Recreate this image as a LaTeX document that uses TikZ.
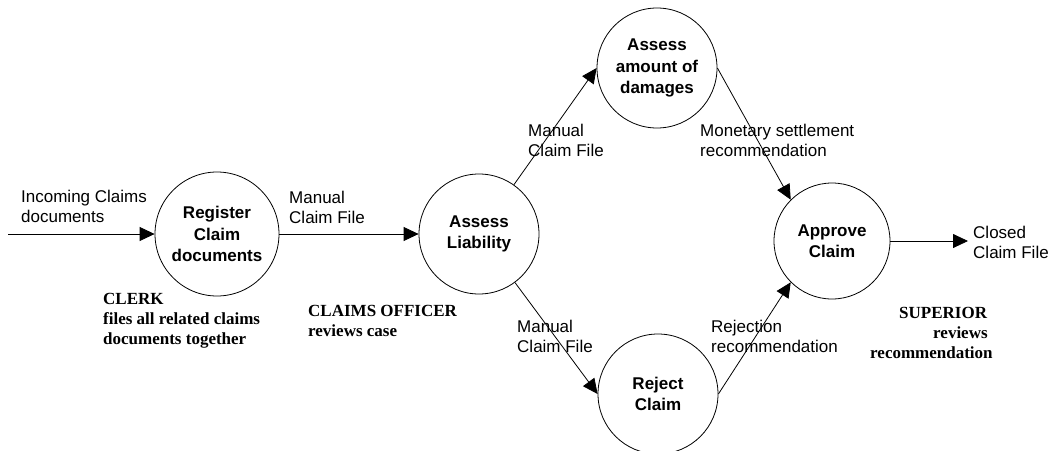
\documentclass[tikz,border=0pt]{standalone}
\usepackage{fontspec}
\setmainfont{Liberation Serif}
\setsansfont{Liberation Sans}
\usetikzlibrary{arrows.meta}

\tikzset{
  process/.style={circle, draw, line width=0.8pt, minimum size=120pt, inner sep=0pt,
    align=center, font=\fontsize{17}{21.5}\selectfont\sffamily\bfseries},
  flow/.style={line width=0.8pt, -{Triangle[length=15pt,width=14pt]}},
  flowlabel/.style={anchor=west, inner sep=0pt, align=left,
    font=\fontsize{17}{20}\selectfont\sffamily},
  role/.style={anchor=west, inner sep=0pt, align=left,
    font=\fontsize{17}{20}\selectfont\rmfamily\bfseries}
}

\begin{document}
\begin{tikzpicture}[x=1pt, y=-1pt]

    % Page frame
    \useasboundingbox (0,0) rectangle (1054,450);

    % Free ends of the outer flows
    \coordinate (src) at (8, 234);      % Incoming claims
    \coordinate (sink) at (968, 241);   % Closed claim file

    % Processes
    \node[process, minimum size=124pt] (reg) at (217, 234) {Register\\Claim\\documents};
    \node[process] (liab) at (479, 234) {Assess\\Liability};
    \node[process] (amount) at (657, 68) {Assess\\amount of\\damages};
    \node[process] (reject) at (658, 394) {Reject\\Claim};
    \node[process, minimum size=116pt] (approve) at (832, 241) {Approve\\Claim};

    % Flows
    \draw[flow] (src) -- (reg);                         % Into register
    \draw[flow] (reg) -- (liab);                        % Register to liability
    \draw[flow] (liab) -- (amount.west);                % Liability to damages
    \draw[flow] (liab) -- (reject.west);                % Liability to reject
    \draw[flow] (amount.east) -- (approve.north west);  % Damages to approve
    \draw[flow] (reject.east) -- (approve.south west);  % Reject to approve
    \draw[flow] (approve) -- (sink);                    % Out of approve

    % Flow labels
    \node[flowlabel] (lblin) at (21, 206) {Incoming Claims\\documents};
    \node[flowlabel] (lblreg) at (289, 207) {Manual\\Claim File};
    \node[flowlabel] (lblup) at (528, 140) {Manual\\Claim File};
    \node[flowlabel] (lbldown) at (517, 336) {Manual\\Claim File};
    \node[flowlabel] (lblmoney) at (700, 140) {Monetary settlement\\recommendation};
    \node[flowlabel] (lblrej) at (711, 336) {Rejection\\recommendation};
    \node[flowlabel] (lblout) at (973, 242) {Closed\\Claim File};

    % Roles
    \node[role] (clerk) at (103, 321) {CLERK\\files all related claims\\documents together};
    \node[role] (officer) at (308, 321) {CLAIMS OFFICER\\reviews case};
    \node[role] (superior) at (870, 333) {\hspace*{29pt}SUPERIOR\\\hspace*{63pt}reviews\\recommendation};

\end{tikzpicture}
\end{document}
